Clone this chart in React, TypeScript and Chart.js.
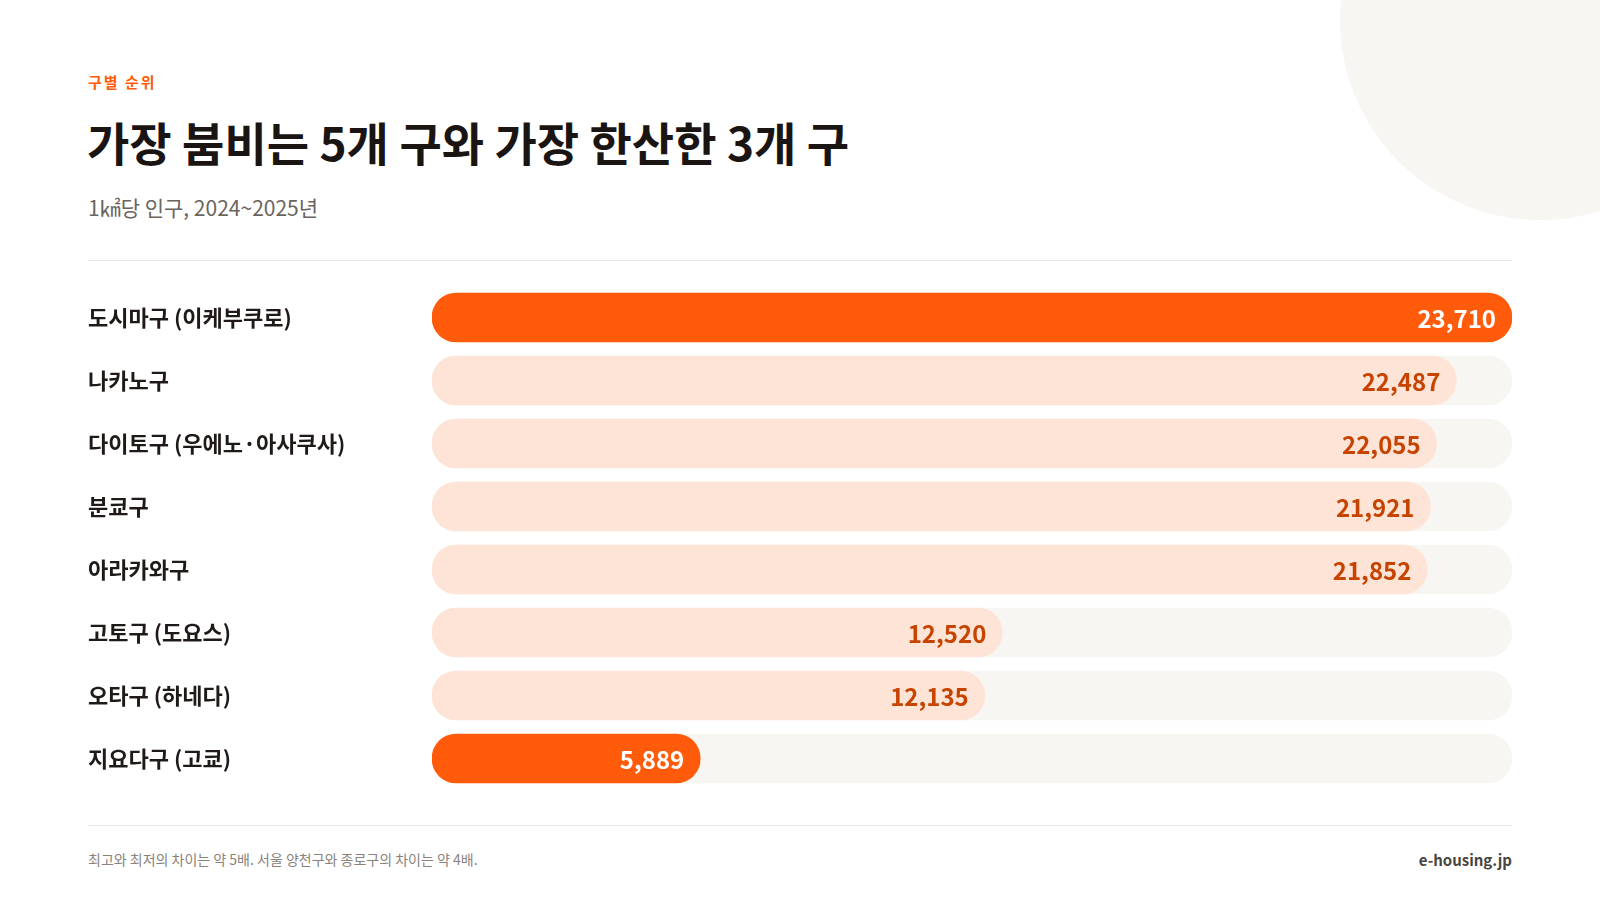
import React, { useEffect, useRef } from 'react';
import { Chart, registerables } from 'chart.js';

Chart.register(...registerables);

const districts = [
  '도시마구 (이케부쿠로)',
  '나카노구',
  '다이토구 (우에노·아사쿠사)',
  '분쿄구',
  '아라카와구',
  '고토구 (도요스)',
  '오타구 (하네다)',
  '지요다구 (고쿄)',
];
const density = [23710, 22487, 22055, 21921, 21852, 12520, 12135, 5889];
const highlighted = [true, false, false, false, false, false, false, true];

const FONT = '"Noto Sans CJK KR", "Noto Sans", sans-serif';
const ORANGE = '#FF5B0A';
const PEACH = '#FDE4D6';
const TRACK = '#F8F6F2';

const valueLabels = {
  id: 'valueLabels',
  afterDatasetsDraw(chart: any) {
    const ctx = chart.ctx;
    const meta = chart.getDatasetMeta(0);
    ctx.save();
    ctx.font = `700 24px ${FONT}`;
    ctx.textAlign = 'right';
    ctx.textBaseline = 'middle';
    meta.data.forEach((bar: any, i: number) => {
      ctx.fillStyle = highlighted[i] ? '#FFFFFF' : '#C74300';
      ctx.fillText(density[i].toLocaleString('en-US'), bar.x - 16, bar.y + 1);
    });
    ctx.restore();
  },
};

function DensityChart() {
  const canvasRef = useRef<HTMLCanvasElement>(null);

  useEffect(() => {
    if (!canvasRef.current) return;
    const maxValue = Math.max(...density);
    const chart = new Chart(canvasRef.current, {
      type: 'bar',
      data: {
        labels: districts,
        datasets: [
          {
            data: density,
            backgroundColor: highlighted.map((h) => (h ? ORANGE : PEACH)),
            borderRadius: 25,
            borderSkipped: false,
            barThickness: 49,
            order: 0,
          },
          {
            data: density.map(() => maxValue),
            backgroundColor: TRACK,
            borderRadius: 25,
            borderSkipped: false,
            barThickness: 49,
            order: 1,
          },
        ],
      },
      options: {
        indexAxis: 'y',
        animation: false,
        responsive: true,
        maintainAspectRatio: false,
        layout: { padding: 0 },
        plugins: {
          legend: { display: false },
          tooltip: { enabled: false },
        },
        scales: {
          x: {
            display: false,
            min: 0,
            max: maxValue,
            grid: { display: false },
          },
          y: {
            stacked: true,
            grid: { display: false },
            border: { display: false },
            afterFit: (scale: any) => {
              scale.width = 344;
              scale.paddingTop = 0;
              scale.paddingBottom = 0;
            },
            ticks: {
              autoSkip: false,
              crossAlign: 'far',
              padding: 0,
              color: '#1F1A17',
              font: { family: FONT, size: 22, weight: 'bold' },
            },
          },
        },
      },
      plugins: [valueLabels],
    });
    return () => chart.destroy();
  }, []);

  return (
    <div style={{ position: 'absolute', left: 88, top: 286, width: 1424, height: 504 }}>
      <canvas ref={canvasRef} />
    </div>
  );
}

export default function App() {
  const text: React.CSSProperties = { position: 'absolute', margin: 0, whiteSpace: 'nowrap', fontFamily: FONT };
  return (
    <div
      style={{
        position: 'fixed',
        left: 0,
        top: 0,
        width: 1600,
        height: 900,
        background: '#FFFFFF',
        overflow: 'hidden',
      }}
    >
      <div
        style={{
          position: 'absolute',
          left: 1340,
          top: -180,
          width: 400,
          height: 400,
          borderRadius: '50%',
          background: '#F8F6F2',
        }}
      />
      <div style={{ ...text, left: 88, top: 74, fontSize: 15, lineHeight: '15px', fontWeight: 700, letterSpacing: 2, color: ORANGE }}>
        구별 순위
      </div>
      <div style={{ ...text, left: 87, top: 118, fontSize: 46, lineHeight: '46px', fontWeight: 700, letterSpacing: 0, color: '#1A1512' }}>
        가장 붐비는 5개 구와 가장 한산한 3개 구
      </div>
      <div style={{ ...text, left: 88, top: 197, fontSize: 21, lineHeight: '21px', fontWeight: 400, color: '#6B645D' }}>
        1㎢당 인구, 2024~2025년
      </div>
      <div style={{ position: 'absolute', left: 88, top: 260, width: 1424, height: 1, background: '#ECE7E2' }} />
      <DensityChart />
      <div style={{ position: 'absolute', left: 88, top: 825, width: 1424, height: 1, background: '#ECE7E2' }} />
      <div style={{ ...text, left: 88, top: 852, fontSize: 14, lineHeight: '14px', color: '#8A837C' }}>
        최고와 최저의 차이는 약 5배. 서울 양천구와 종로구의 차이는 약 4배.
      </div>
      <div style={{ ...text, right: 88, top: 852, fontSize: 15, lineHeight: '15px', fontWeight: 700, color: '#4A4440' }}>
        e-housing.jp
      </div>
    </div>
  );
}
